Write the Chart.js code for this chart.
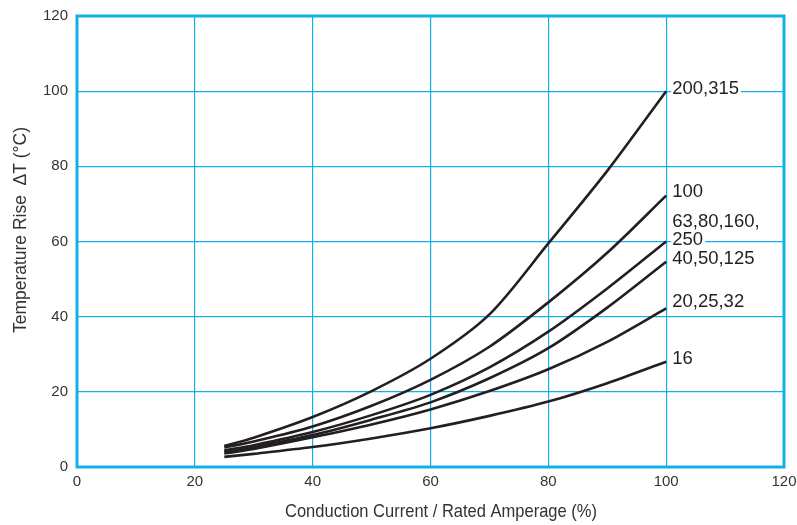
<!DOCTYPE html>
<html>
<head>
<meta charset="utf-8">
<script src="https://cdn.jsdelivr.net/npm/chart.js@4/dist/chart.umd.min.js"></script>
<style>
html,body{margin:0;padding:0;background:#fff;}
#wrap{width:797px;height:525px;position:relative;}
</style>
</head>
<body>
<div id="wrap"><canvas id="c" width="797" height="525"></canvas></div>
<script>
// Conduction current / rated amperage (%)
const xValues = [25, 30, 40, 50, 60, 70, 80, 90, 100];
// Temperature rise ΔT (°C) per rated-current group
const s200_315 = [5.6, 7.8, 13.3, 20.2, 28.8, 40.6, 59.5, 78.8, 100];
const s100 = [5.2, 6.8, 10.8, 16.3, 23.2, 32.0, 43.8, 57.0, 72.2];
const s63_80_160_250 = [4.4, 5.8, 9.3, 13.8, 19.2, 26.5, 36.0, 47.5, 60.0];
const s40_50_125 = [4.0, 5.3, 8.5, 12.6, 17.2, 23.6, 31.6, 42.4, 54.6];
const s20_25_32 = [3.6, 4.8, 7.9, 11.3, 15.3, 20.2, 26.0, 33.3, 42.2];
const s16 = [2.7, 3.5, 5.3, 7.6, 10.3, 13.6, 17.4, 22.3, 28.0];
const seriesLabels = [["200,315"], ["100"], ["63,80,160,", "250"], ["40,50,125"], ["20,25,32"], ["16"]];
const xTicks = [0, 20, 40, 60, 80, 100, 120];
const yTicks = [0, 20, 40, 60, 80, 100, 120];
const xTitle = 'Conduction Current / Rated Amperage (%)';
const yTitle = 'Temperature Rise  \u0394T (°C)';

const series = [s200_315, s100, s63_80_160_250, s40_50_125, s20_25_32, s16];
const labelDy = [-2, -4, -20, -3, -6, -3];

const LINE = '#231f20';
const CYAN = '#14aee9';
const TXT = '#333';

const datasets = series.map((s, i) => ({
  data: xValues.map((x, j) => ({x: x, y: s[j]})),
  borderColor: LINE,
  borderWidth: 2.6,
  pointRadius: 0,
  fill: false,
  tension: 0.3,
  endLabel: seriesLabels[i],
  endLabelDy: labelDy[i]
}));

const endLabels = {
  id: 'endLabels',
  afterDatasetsDraw(chart) {
    const ctx = chart.ctx;
    ctx.save();
    ctx.font = '18.5px "Liberation Sans", Arial, sans-serif';
    ctx.textBaseline = 'middle';
    ctx.textAlign = 'left';
    chart.data.datasets.forEach((ds, i) => {
      const meta = chart.getDatasetMeta(i);
      const pt = meta.data[meta.data.length - 1];
      const lh = 18.5;
      ds.endLabel.forEach((t, k) => {
        const x = pt.x + 6;
        const y = pt.y + ds.endLabelDy + k * lh;
        const w = ctx.measureText(t).width;
        ctx.fillStyle = '#fff';
        ctx.fillRect(x - 1, y - 8, w + 3, 16);
        ctx.fillStyle = LINE;
        ctx.fillText(t, x, y);
      });
    });
    ctx.restore();
  }
};

function condensedText(ctx, text, cx, cy, rot, targetW) {
  ctx.save();
  ctx.font = '19px "Liberation Sans", Arial, sans-serif';
  ctx.fillStyle = TXT;
  ctx.textAlign = 'center';
  ctx.textBaseline = 'middle';
  const w = ctx.measureText(text).width;
  ctx.translate(cx, cy);
  ctx.rotate(rot);
  ctx.scale(targetW / w, 1);
  ctx.fillText(text, 0, 0);
  ctx.restore();
}

const frame = {
  id: 'frame',
  afterDraw(chart) {
    const a = chart.chartArea;
    const ctx = chart.ctx;
    ctx.save();
    ctx.strokeStyle = CYAN;
    ctx.lineWidth = 3;
    ctx.strokeRect(a.left, a.top, a.right - a.left, a.bottom - a.top);
    ctx.restore();
    condensedText(ctx, xTitle, 441, 512, 0, 312);
    condensedText(ctx, yTitle, 21, 230, -Math.PI / 2, 206);
  }
};

new Chart(document.getElementById('c'), {
  type: 'line',
  data: { datasets: datasets },
  plugins: [endLabels, frame],
  options: {
    responsive: false,
    animation: false,
    events: [],
    layout: { padding: { top: 16, right: 13, left: 0, bottom: 0 } },
    plugins: { legend: { display: false }, tooltip: { enabled: false } },
    scales: {
      x: {
        type: 'linear',
        min: 0, max: 120,
        afterBuildTicks: s => { s.ticks = xTicks.map(v => ({value: v})); },
        afterFit: s => { s.height = 58; s.paddingLeft = 0; s.paddingRight = 0; },
        grid: { color: CYAN, lineWidth: 1.2, drawTicks: false },
        border: { display: false },
        ticks: { padding: 6, color: TXT, font: { family: '"Liberation Sans", Arial, sans-serif', size: 15 }, maxRotation: 0 }
      },
      y: {
        type: 'linear',
        min: 0, max: 120,
        afterBuildTicks: s => { s.ticks = yTicks.map(v => ({value: v})); },
        afterFit: s => { s.width = 77; s.paddingTop = 0; s.paddingBottom = 0; },
        grid: { color: CYAN, lineWidth: 1.2, drawTicks: false },
        border: { display: false },
        ticks: { padding: 9, color: TXT, font: { family: '"Liberation Sans", Arial, sans-serif', size: 15 } }
      }
    }
  }
});
</script>
</body>
</html>
